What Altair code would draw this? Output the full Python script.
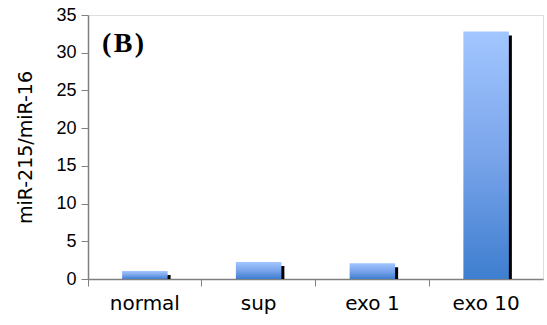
import altair as alt
import pandas as pd

categories = ["normal", "sup", "exo 1", "exo 10"]
values = [1.05, 2.25, 2.1, 32.8]
y_ticks = [0, 5, 10, 15, 20, 25, 30, 35]

df = pd.DataFrame({"group": categories, "value": values})

x_enc = alt.X(
    "group:N",
    sort=categories,
    scale=alt.Scale(paddingInner=0, paddingOuter=0),
    axis=alt.Axis(
        title=None, labelAngle=0, bandPosition=0, labelFont="DejaVu Sans",
        labelFontSize=20, labelColor="#000000", labelPadding=7,
        domainColor="#808080", tickColor="#808080", tickSize=7, domainWidth=1.5,
    ),
)
y_enc = alt.Y(
    "value:Q",
    scale=alt.Scale(domain=[0, 35], nice=False),
    axis=alt.Axis(
        title="miR-215/miR-16", values=y_ticks, grid=False,
        labelFont="Liberation Sans", labelFontSize=18, labelColor="#000000",
        labelPadding=5, tickSize=7, domainColor="#808080", tickColor="#808080",
        domainWidth=1.5, titleFont="DejaVu Sans", titleFontSize=19,
        titleFontWeight="normal", titleColor="#000000", titlePadding=20,
    ),
)

shadow = alt.Chart(df).mark_bar(
    color="#000000", xOffset=3, yOffset=4, y2Offset=0.01,
    width=alt.RelativeBandSize(0.4),
).encode(x=x_enc, y=y_enc, y2=alt.datum(0))

bars = alt.Chart(df).mark_bar(
    width=alt.RelativeBandSize(0.4),
    color=alt.Gradient(
        gradient="linear",
        stops=[
            alt.GradientStop(color="#a2c6ff", offset=0),
            alt.GradientStop(color="#7aa5eb", offset=0.5),
            alt.GradientStop(color="#3e7ecf", offset=1),
        ],
        x1=1, x2=1, y1=0, y2=1,
    ),
).encode(x=x_enc, y=y_enc)

label = alt.Chart(pd.DataFrame({"t": ["(\u200aB\u200a)"]})).mark_text(
    font="Liberation Serif", fontWeight="bold", fontSize=28, align="left",
    baseline="middle", color="#000000",
).encode(text="t:N", x=alt.value(14), y=alt.value(29))

chart = alt.layer(shadow, bars, label).properties(
    width=455, height=264,
    padding={"left": 88, "top": 15, "right": 4, "bottom": 46},
    autosize=alt.AutoSizeParams(type="none"),
).configure_view(stroke="#222222", strokeWidth=1.5).configure(background="#ffffff")

chart.save("out.html", embed_options={"renderer": "svg", "actions": False})
